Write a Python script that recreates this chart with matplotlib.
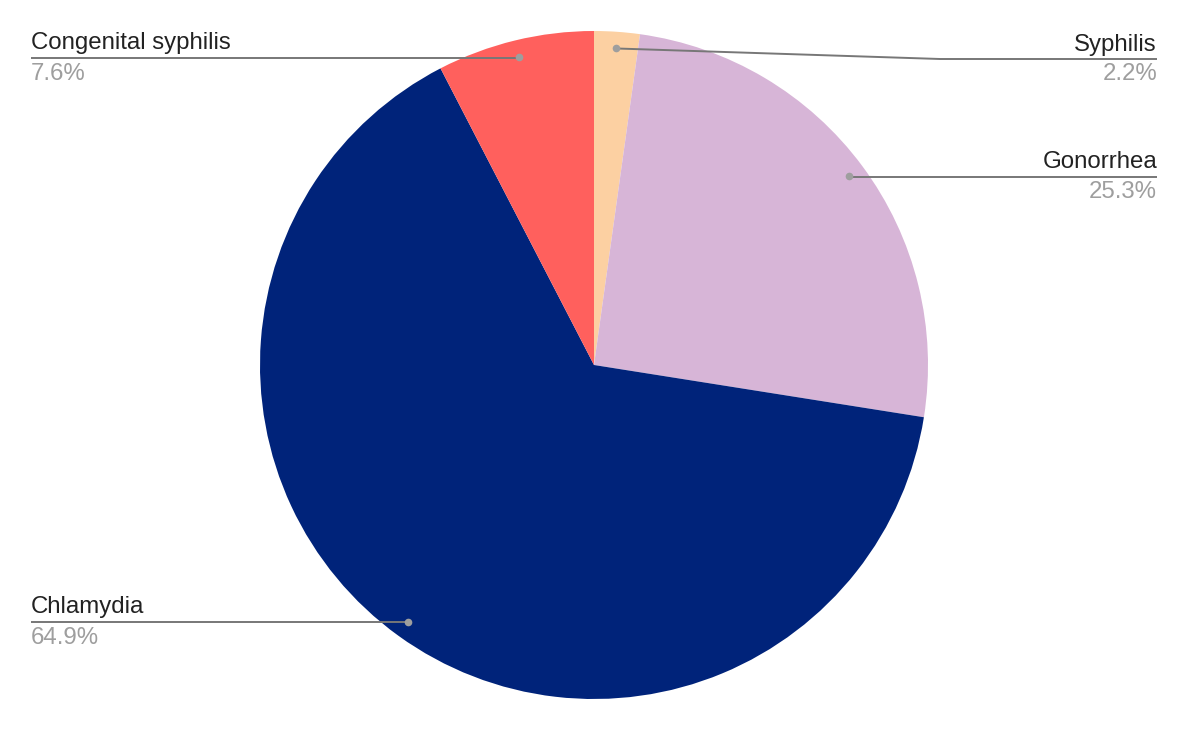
import matplotlib.pyplot as plt
import numpy as np
from matplotlib.lines import Line2D

plt.rcParams['font.family'] = ['Liberation Sans', 'DejaVu Sans']

diseases = ["Syphilis", "Gonorrhea", "Chlamydia", "Congenital syphilis"]
shares = [2.2, 25.3, 64.9, 7.6]
colors = ["#FCD0A2", "#D7B5D7", "#00237A", "#FF605D"]

W, H = 1189, 731


def fig_xy(px, py):
    """pixel (from top-left) -> figure fraction"""
    return px / W, 1 - py / H


def main():
    fig = plt.figure(figsize=(W / 100, H / 100), dpi=100)
    cx, cy, r = 594, 365, 334
    ax = fig.add_axes([(cx - r) / W, (H - cy - r) / H, 2 * r / W, 2 * r / H])
    wedges, _ = ax.pie(shares, colors=colors, startangle=90, counterclock=False,
                       radius=1, wedgeprops=dict(linewidth=0))
    ax.set_xlim(-1, 1)
    ax.set_ylim(-1, 1)
    ax.axis("off")

    # label layout: side, line y (px from top), elbow x (None = at dot)
    layout = {
        "Syphilis": ("right", 59, 940),
        "Gonorrhea": ("right", 177, None),
        "Chlamydia": ("left", 622, None),
        "Congenital syphilis": ("left", 58, None),
    }
    to_fig = fig.transFigure.inverted()
    for w, name, val in zip(wedges, diseases, shares):
        theta = np.deg2rad((w.theta1 + w.theta2) / 2)
        dot = ax.transData.transform((0.95 * np.cos(theta), 0.95 * np.sin(theta)))
        dx, dy = to_fig.transform(dot)
        side, ly, elbow = layout[name]
        lx_end = 31 if side == "left" else 1157
        _, fy = fig_xy(0, ly)
        ex = dx if elbow is None else elbow / W
        xs = [dx, ex, lx_end / W]
        ys = [dy, fy, fy]
        fig.add_artist(Line2D(xs, ys, transform=fig.transFigure, color="#777777",
                              lw=1.4, solid_capstyle="butt"))
        fig.add_artist(Line2D([dx], [dy], transform=fig.transFigure, marker="o",
                              ms=5.5, color="#9e9e9e", mec="none"))
        ha = "left" if side == "left" else "right"
        fig.text(lx_end / W, fig_xy(0, ly - 8.5)[1], name, ha=ha, va="baseline",
                 fontsize=17.3, color="#222222")
        fig.text(lx_end / W, fig_xy(0, ly + 21.5)[1], f"{val}%", ha=ha, va="baseline",
                 fontsize=17.3, color="#9e9e9e")

    fig.savefig("out.png", dpi=100, facecolor="white")


if __name__ == '__main__':
    main()
